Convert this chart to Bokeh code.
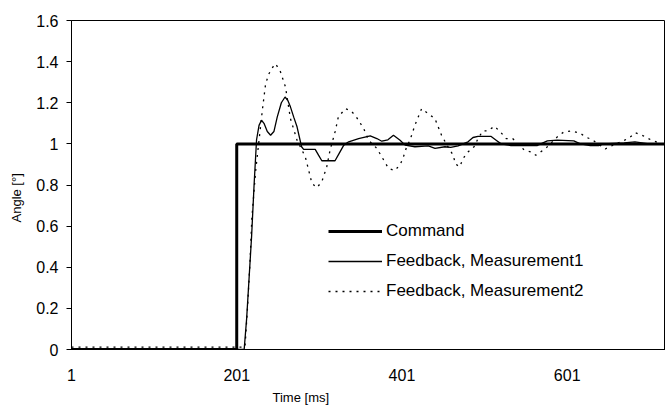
import numpy as np
from bokeh.plotting import figure
from bokeh.models import (FixedTicker, CustomJSTickFormatter, Legend, LegendItem,
                          Title, Range1d)
from bokeh.embed import file_html
from bokeh.resources import INLINE

# ---------------- data ----------------
x_ticks = [1, 201, 401, 601]
y_ticks = [0, 0.2, 0.4, 0.6, 0.8, 1.0, 1.2, 1.4, 1.6]

command_t = [1, 201, 201, 720]
command_v = [0, 0, 1, 1]

meas1_t = [1, 210, 213, 216, 219, 222, 225, 228, 231, 234, 238, 242, 246, 250, 255,
           259.5, 263, 266, 270, 274, 279.5, 282, 296, 300, 304, 320, 325, 330.6,
           336.5, 348.5, 362.6, 370.6, 376.6, 384, 390.7, 398.7, 404.8, 416.7, 432.9,
           441, 453, 460, 469, 481, 487, 493, 509, 515, 521, 533, 565, 569, 577, 589,
           609, 617, 629, 639, 645, 670, 683, 700, 720]
meas1_v = [0, 0, 0.15, 0.35, 0.55, 0.8, 1.02, 1.09, 1.115, 1.1, 1.06, 1.042, 1.06, 1.13,
           1.2, 1.228, 1.21, 1.18, 1.13, 1.083, 0.986, 0.973, 0.973, 0.945, 0.918, 0.918,
           0.954, 0.994, 1.01, 1.026, 1.039, 1.026, 1.013, 1.02, 1.042, 1.018, 0.994,
           0.986, 0.99, 0.978, 0.986, 0.983, 0.99, 1.01, 1.031, 1.036, 1.036, 1.018, 1.0,
           0.992, 0.992, 1.0, 1.015, 1.018, 1.015, 1.0, 0.992, 0.992, 1.0, 1.005, 1.01,
           1.0, 1.0]

meas2_t = [1, 211, 214, 217, 219.3, 224, 228, 232, 236, 240, 244, 248, 254, 260, 266,
           274, 284, 288, 292, 298, 304, 310, 314, 320, 324, 332.5, 338.5, 344.5, 354.6,
           360.6, 370.6, 376.6, 384.7, 392, 398.7, 402.8, 406.7, 410.7, 416.7, 424.8,
           432.9, 440.9, 448.9, 456, 463, 465.7, 471, 475, 481, 489, 493, 499, 505, 513,
           521, 527, 535, 549, 557, 563, 575, 589, 597, 607, 617, 623, 631, 647, 661, 675,
           683.6, 691.7, 701.7, 715.8, 720]
meas2_v = [0.012, 0.012, 0.2, 0.42, 0.638, 0.873, 1.018, 1.164, 1.293, 1.341, 1.37, 1.39,
           1.35, 1.277, 1.123, 1.018, 0.937, 0.873, 0.808, 0.787, 0.816, 0.889, 0.97,
           1.058, 1.131, 1.171, 1.163, 1.139, 1.075, 1.018, 0.978, 0.937, 0.881, 0.87,
           0.897, 0.937, 0.986, 1.018, 1.091, 1.171, 1.147, 1.123, 1.042, 0.99, 0.945,
           0.902, 0.889, 0.929, 0.961, 0.989, 1.026, 1.063, 1.063, 1.086, 1.054, 1.026,
           1.026, 0.97, 0.961, 0.945, 0.978, 1.034, 1.058, 1.063, 1.051, 1.034, 1.021,
           0.975, 1.002, 1.026, 1.054, 1.042, 1.021, 0.999, 1.0]

labels = ["Command", "Feedback, Measurement1", "Feedback, Measurement2"]
x_title = "Time [ms]"
y_title = "Angle [°]"

# ---------------- figure ----------------
FONT = "Liberation Sans"
p = figure(width=665, height=408, output_backend="svg", toolbar_location=None,
           x_range=Range1d(1, 720), y_range=Range1d(0, 1.6),
           min_border_left=68, min_border_right=0, min_border_top=20,
           min_border_bottom=59)
p.background_fill_color = "white"
p.border_fill_color = "white"
p.outline_line_color = "black"
p.outline_line_width = 1
p.xgrid.visible = False
p.ygrid.visible = False

# axes
p.xaxis.ticker = FixedTicker(ticks=x_ticks)
p.xaxis.major_tick_line_color = None
p.xaxis.minor_tick_line_color = None
p.xaxis.major_tick_out = 0
p.xaxis.major_tick_in = 0
p.xaxis.major_label_standoff = 19
p.xaxis.axis_line_color = "black"

p.yaxis.ticker = FixedTicker(ticks=y_ticks)
p.yaxis.formatter = CustomJSTickFormatter(code="return String(Math.round(tick*10)/10)")
p.yaxis.minor_tick_line_color = None
p.yaxis.major_tick_out = 5
p.yaxis.major_tick_in = 0
p.yaxis.major_tick_line_color = "black"
p.yaxis.major_label_standoff = 8
p.yaxis.axis_line_color = "black"

for ax in (p.xaxis[0], p.yaxis[0]):
    ax.major_label_text_font = FONT
    ax.major_label_text_font_size = "16px"
    ax.major_label_text_color = "black"

# series
r2 = p.line(meas2_t, meas2_v, line_color="black", line_width=1.3, line_dash="2 5")
r1 = p.line(meas1_t, meas1_v, line_color="black", line_width=1.3)
r0 = p.line(command_t, command_v, line_color="black", line_width=3)

legend = Legend(items=[LegendItem(label=labels[0], renderers=[r0]),
                       LegendItem(label=labels[1], renderers=[r1]),
                       LegendItem(label=labels[2], renderers=[r2])],
                location=(257, 48), border_line_color=None,
                background_fill_alpha=0, padding=0, margin=0, spacing=10,
                glyph_height=20, glyph_width=54, label_height=20,
                label_standoff=4, label_text_font=FONT,
                label_text_font_size="17px", label_text_color="black")
p.add_layout(legend)

# axis titles as side titles (offset along the axis)
p.add_layout(Title(text=x_title, align="left", offset=201, standoff=8,
                   text_font=FONT, text_font_size="13px", text_font_style="normal",
                   text_color="black"), "below")
p.add_layout(Title(text=y_title, align="left", offset=127, standoff=16,
                   vertical_align="top", text_font=FONT, text_font_size="13px",
                   text_font_style="normal", text_color="black"), "left")

open("out.html", "w").write(file_html(p, INLINE))
